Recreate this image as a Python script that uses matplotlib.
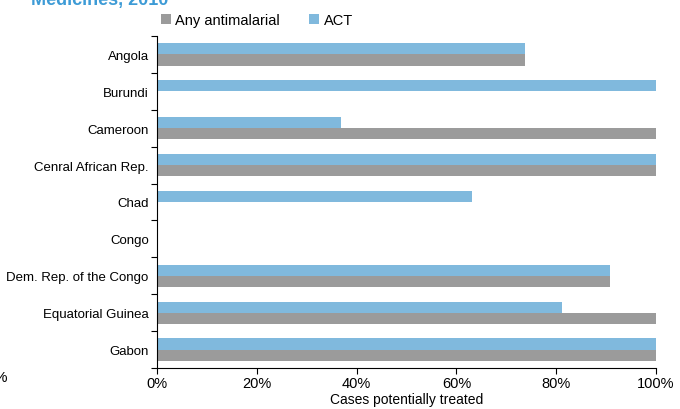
import matplotlib
matplotlib.use("Agg")
import matplotlib.pyplot as plt
import numpy as np

# Data
countries = ["Angola", "Burundi", "Cameroon", "Cenral African Rep.", "Chad",
             "Congo", "Dem. Rep. of the Congo", "Equatorial Guinea", "Gabon"]
any_antimalarial = [73.7, 0, 100, 100, 0, 0, 90.8, 100, 100]
act = [73.7, 100, 36.9, 100, 63.1, 0, 90.8, 81.2, 100]

plt.rcParams['font.family'] = ['Liberation Sans', 'DejaVu Sans']

fig = plt.figure(figsize=(6.8, 4.1), dpi=100)
ax = fig.add_axes([157 / 680, 1 - 369 / 410, 499 / 680, 332 / 410])

y = np.arange(len(countries))
h = 0.3
ax.barh(y + h / 2, any_antimalarial, height=h, color='#9b9b9b', label='Any antimalarial')
ax.barh(y - h / 2, act, height=h, color='#80b9dd', label='ACT')

ax.set_ylim(len(countries) - 0.5, -0.5)
ax.set_xlim(0, 100)
ax.set_yticks(y)
ax.set_yticklabels(countries)
ax.set_yticks(np.arange(-0.5, len(countries)), minor=True)
ax.tick_params(axis='y', which='major', length=0, labelsize=9.5, pad=6)
ax.tick_params(axis='y', which='minor', length=4, width=0.8)
ax.set_xticks(np.arange(0, 101, 20))
ax.set_xticklabels([f'{v}%' for v in range(0, 101, 20)])
ax.tick_params(axis='x', length=4, width=0.8, labelsize=10.5, pad=2)
ax.set_xlabel('Cases potentially treated', fontsize=10, labelpad=1)

for s in ['top', 'right']:
    ax.spines[s].set_visible(False)
for s in ['left', 'bottom']:
    ax.spines[s].set_linewidth(0.8)

ax.legend(loc='lower left', bbox_to_anchor=(-0.01, 1.0), ncol=2, frameon=False,
          fontsize=10.5, handlelength=0.7, handleheight=0.7, handletextpad=0.3,
          columnspacing=2.0, borderaxespad=0.2)

fig.text(0.045, 1.0, 'Medicines, 2010', color='#3d9bd6', fontsize=13,
         fontweight='bold', va='center')
fig.text(0.0, 1 - 378 / 410, '%', fontsize=11, ha='center', va='center')

fig.savefig('out.png', dpi=100)
